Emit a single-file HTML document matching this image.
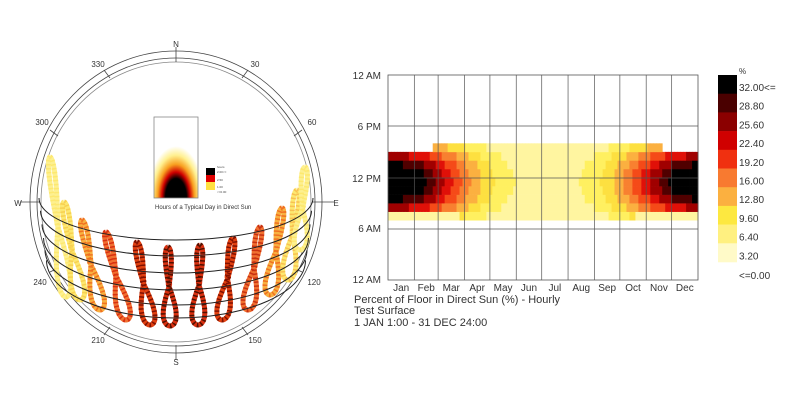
<!DOCTYPE html>
<html><head><meta charset="utf-8"><style>
html,body{margin:0;padding:0;background:#fff;width:800px;height:415px;overflow:hidden}
svg{display:block;font-family:"Liberation Sans",Verdana,sans-serif}
</style></head><body>
<svg id="s" width="800" height="415" viewBox="0 0 800 415" xmlns="http://www.w3.org/2000/svg">
<defs>
<radialGradient id="ig" cx="0.5" cy="1" r="0.8" fx="0.5" fy="1">
<stop offset="0" stop-color="#000"/><stop offset="0.3" stop-color="#000"/><stop offset="0.4" stop-color="#d00000"/><stop offset="0.52" stop-color="#f8a020"/><stop offset="0.66" stop-color="#fff090"/><stop offset="0.8" stop-color="#fff"/>
</radialGradient>
</defs>
<g id="left" fill="none" stroke="#444" stroke-width="0.8">
<ellipse cx="176" cy="202" rx="146" ry="151"/>
<ellipse cx="176" cy="202" rx="139" ry="144"/>
<ellipse cx="176" cy="202" rx="135" ry="140" stroke="#888"/>
</g>
<g id="ticks" stroke="#444" stroke-width="0.8"></g>
<g id="loops" fill="none"></g>
<g id="arcs" fill="none" stroke="#222" stroke-width="1"></g>
<g font-size="8" fill="#333" text-anchor="middle">
<text x="176" y="47">N</text><text x="176" y="365">S</text>
<text x="18" y="206">W</text><text x="336" y="206">E</text>
<text x="98" y="67">330</text><text x="255" y="67">30</text>
<text x="42" y="125">300</text><text x="312" y="125">60</text>
<text x="40" y="285">240</text><text x="314" y="285">120</text>
<text x="98" y="343">210</text><text x="255" y="343">150</text>
</g>
<rect x="154" y="117" width="44" height="81" fill="url(#ig)" stroke="#888" stroke-width="0.8"/>
<rect x="206" y="168" width="9" height="7" fill="#000"/>
<rect x="206" y="175" width="9" height="7" fill="#e00000"/>
<rect x="206" y="182" width="9" height="8" fill="#ffe040"/>
<g font-size="3" fill="#444"><text x="217" y="168">hours</text><text x="217" y="173">2.00&lt;=</text><text x="217" y="181">2.50</text><text x="217" y="188">1.00</text><text x="217" y="193">&lt;=0.00</text></g>
<text x="155" y="209" font-size="6" fill="#333">Hours of a Typical Day in Direct Sun</text>

<g id="heat"></g>
<g id="grid" stroke="#555" stroke-width="0.7" fill="none"></g>
<rect x="388" y="75" width="310" height="205" fill="none" stroke="#555" stroke-width="0.8"/>
<g font-size="10" fill="#333" text-anchor="end">
<text x="381" y="79">12 AM</text><text x="381" y="130">6 PM</text><text x="381" y="182">12 PM</text><text x="381" y="232">6 AM</text><text x="381" y="283">12 AM</text>
</g>
<g id="months" font-size="10" fill="#333" text-anchor="middle"></g>
<g font-size="11" fill="#333">
<text x="354" y="303">Percent of Floor in Direct Sun (%) - Hourly</text>
<text x="354" y="314">Test Surface</text>
<text x="354" y="326">1 JAN 1:00 - 31 DEC 24:00</text>
</g>
<g id="leg"></g>
</svg>
<script>
var NS="http://www.w3.org/2000/svg";
function el(p,t,a){var e=document.createElementNS(NS,t);for(var k in a)e.setAttribute(k,a[k]);document.getElementById(p).appendChild(e);return e;}
var cols=["#fffbd0","#fff5a0","#fff060","#fde040","#fbb040","#f88030","#f54a18","#e01008","#a00000","#500000","#000000"];
function col(v){if(v<=0.3)return null;var i=Math.floor(v/3.2);if(i>10)i=10;return cols[i];}
var x0=388,w=310,y0=75,h=205,ph=h/24;
var N=104;
for(var i=0;i<N;i++){
 var d=(i+0.5)/N*365;
 var s=(Math.cos(2*Math.PI*(d-5)/365)+1)/2;
 var sm=Math.pow(s,1.5);
 for(var hr=6;hr<18;hr++){
  var hc=hr+0.5, v=0;
  var half=3.9+0.6*(1-s);
  var dist=Math.abs(hc-11.5);
  if(dist<half){
   var base=sm*34+3.5+2*(1-s);
   var f=1-Math.pow(dist/half,2)*0.5;
   v=base*f;
  }
  if(s>0.6 && hr==7) v=4.5;
  var c=col(v);
  if(c)el("heat","rect",{x:x0+i*w/N,y:y0+(24-hr-1)*ph,width:w/N+0.4,height:ph+0.3,fill:c});
 }
}
var m=["Jan","Feb","Mar","Apr","May","Jun","Jul","Aug","Sep","Oct","Nov","Dec"],md=[0,31,59,90,120,151,181,212,243,273,304,334,365];
for(var i=0;i<12;i++){
 var xa=x0+md[i]/365*w,xb=x0+md[i+1]/365*w;
 if(i>0)el("grid","line",{x1:xa,y1:y0,x2:xa,y2:y0+h});
 el("months","text",{x:(xa+xb)/2,y:291}).textContent=m[i];
}
[126,178,229].forEach(function(y){el("grid","line",{x1:x0,y1:y,x2:x0+w,y2:y});});
var lc=["#000","#4a0000","#8b0000","#d00000","#f03010","#f87a30","#fbb040","#fde840","#fff080","#fffac8"];
var lt=["32.00<=","28.80","25.60","22.40","19.20","16.00","12.80","9.60","6.40","3.20"];
for(var i=0;i<10;i++){
 el("leg","rect",{x:718,y:75+i*18.7,width:19,height:19,fill:lc[i]});
 el("leg","text",{x:739,y:91+i*18.7,"font-size":"10",fill:"#333"}).textContent=lt[i];
}
el("leg","text",{x:739,y:74,"font-size":"8",fill:"#333"}).textContent="%";
el("leg","text",{x:739,y:279,"font-size":"10",fill:"#333"}).textContent="<=0.00";
[240,256,273,290,305,318].forEach(function(b,i){
 var c=198+(b-240)*0.8, ry=b-c, rx=137-i*1.5;
 el("arcs","path",{d:"M"+(176-rx)+" "+c+" A"+rx+" "+ry+" 0 0 0 "+(176+rx)+" "+c});
});
[[176,47,176,62],[176,345,176,360],[20,202,40,202],[312,202,334,202],[104,70,110,78],[248,70,242,78],[50,130,58,136],[302,130,294,136],[50,272,58,268],[302,272,294,268],[104,335,110,327],[248,335,242,327]].forEach(function(a){el("ticks","line",{x1:a[0],y1:a[1],x2:a[2],y2:a[3]});});
var L=[[50,157,66,297,"#fdf090","#fde870"],[64,202,80,300,"#fde870","#f8d050"],[82,220,100,310,"#f8b040","#f07020"],[106,232,126,320,"#f07030","#d83010"],[137,242,150,325,"#e04010","#801000"],[168,247,170,326,"#d83010","#501000"],
[200,245,198,325,"#d83010","#501000"],[233,238,222,320,"#e04010","#801000"],[260,227,248,310,"#f07030","#c83010"],[282,208,270,295,"#f8b040","#f07020"],[297,190,288,280,"#fde870","#f8c050"],[305,167,300,250,"#fdf090","#fde870"]];
L.forEach(function(l){
 var xt=l[0],yt=l[1],xb=l[2],yb=l[3],p="";
 for(var k=0;k<=120;k++){
  var t=k/120*2*Math.PI;
  var u=(1-Math.cos(t))/2;
  var cx=xt+(xb-xt)*u, cy=yt+(yb-yt)*u;
  var wd=(u<0.45?3:6.5)*Math.sin(2*t);
  p+=(k?"L":"M")+(cx+wd).toFixed(1)+" "+cy.toFixed(1);
 }
 el("loops","path",{d:p,stroke:l[4],"stroke-width":"5","stroke-linejoin":"round"});
 el("loops","path",{d:p,stroke:l[5],"stroke-width":"5","stroke-dasharray":"1.5 2.5"});
});
</script>
</body></html>
